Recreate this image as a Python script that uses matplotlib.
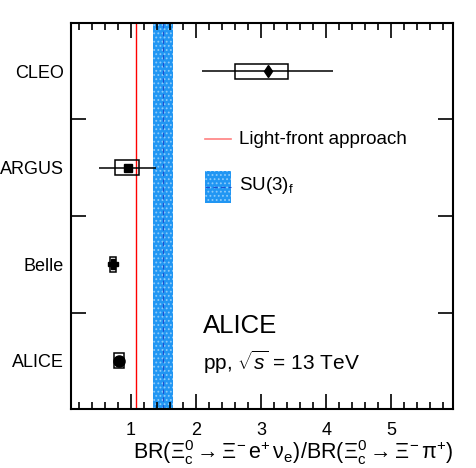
import numpy as np
import matplotlib
matplotlib.use("Agg")
import matplotlib.pyplot as plt
from matplotlib.patches import Rectangle
from matplotlib.ticker import MultipleLocator, FixedLocator, NullFormatter

plt.rcParams['font.family'] = ['Liberation Sans', 'DejaVu Sans']
plt.rcParams['mathtext.fontset'] = 'custom'
plt.rcParams['mathtext.rm'] = 'Liberation Sans'
plt.rcParams['mathtext.it'] = 'Liberation Sans:italic'
plt.rcParams['mathtext.bf'] = 'Liberation Sans:bold'
plt.rcParams['hatch.linewidth'] = 0.8

# measurements, top to bottom
experiments = ['CLEO', 'ARGUS', 'Belle', 'ALICE']
values = [3.1, 0.95, 0.73, 0.82]
stat_lo = [1.0, 0.44, 0.02, 0.03]
stat_hi = [1.0, 0.43, 0.02, 0.03]
syst_lo = [0.5, 0.19, 0.05, 0.08]
syst_hi = [0.32, 0.18, 0.04, 0.08]
markers = ['d', 's', 'P', 'o']
marker_sizes = [6, 6, 7, 8]

# theory predictions
light_front = 1.08
su3_center = 1.49
su3_lo = 1.34
su3_hi = 1.64

band_face = '#2196f3'
band_dots = '#8ccbfa'

fig = plt.figure(figsize=(4.76, 4.68), dpi=100)
ax = fig.add_axes([0.149, 0.126, 0.803, 0.825])

n = len(experiments)
ypos = n - 0.5 - np.arange(n)

# SU(3) band and light-front line
ax.axvspan(su3_lo, su3_hi, facecolor=band_face, edgecolor=band_dots, hatch='....',
           lw=0, zorder=1)
ax.axvline(su3_center, color='#1f4fd0', lw=0.8, ls=(0, (4, 3)), zorder=2)
ax.axvline(light_front, color='red', lw=1.0, zorder=2)

box_h = 0.155
for i in range(n):
    y = ypos[i]
    ax.errorbar(values[i], y, xerr=[[stat_lo[i]], [stat_hi[i]]], fmt='none',
                ecolor='black', elinewidth=1.1, capsize=0, zorder=3)
    ax.add_patch(Rectangle((values[i] - syst_lo[i], y - box_h / 2),
                           syst_lo[i] + syst_hi[i], box_h,
                           fill=False, ec='black', lw=1.1, zorder=4))
    ax.plot(values[i], y, marker=markers[i], color='black', ms=marker_sizes[i],
            ls='none', zorder=5)

ax.set_xlim(0.08, 5.95)
ax.set_ylim(0, n)

ax.xaxis.set_major_locator(FixedLocator([1, 2, 3, 4, 5]))
ax.xaxis.set_minor_locator(MultipleLocator(0.2))
ax.yaxis.set_major_locator(FixedLocator(np.arange(1, n)))
ax.yaxis.set_major_formatter(NullFormatter())
ax.yaxis.set_minor_locator(FixedLocator(ypos))
ax.set_yticklabels(experiments, minor=True)

ax.tick_params(axis='both', which='both', direction='in', top=True, right=True,
               labelsize=13, width=1.2)
ax.tick_params(axis='x', which='major', length=11, pad=9)
ax.tick_params(axis='x', which='minor', length=5)
ax.tick_params(axis='y', which='major', length=11)
ax.tick_params(axis='y', which='minor', length=0, pad=5)
for s in ax.spines.values():
    s.set_linewidth(1.5)

ax.set_xlabel(r'BR($\Xi_{\rm c}^{0}\rightarrow\Xi^{-}\,{\rm e}^{+}\,\mathrm{\nu}_{\rm e}$)/BR($\Xi_{\rm c}^{0}\rightarrow\Xi^{-}\,\mathrm{\pi}^{+}$)',
              fontsize=15.5, loc='right', labelpad=0)

# legend drawn by hand in axes coords
ax.plot([0.35, 0.42], [0.699, 0.699], transform=ax.transAxes, color='#ff8080', lw=1.2)
ax.text(0.44, 0.699, 'Light-front approach', transform=ax.transAxes, fontsize=13.5, va='center')
ax.add_patch(Rectangle((0.35, 0.534), 0.07, 0.083, transform=ax.transAxes,
                       facecolor=band_face, edgecolor=band_dots, hatch='....', lw=0))
ax.plot([0.35, 0.42], [0.575, 0.575], transform=ax.transAxes, color='#1f4fd0',
        lw=0.8, ls=(0, (4, 3)))
ax.text(0.44, 0.578, r'SU(3)$_{\rm f}$', transform=ax.transAxes, fontsize=13.5, va='center')

ax.text(0.345, 0.215, 'ALICE', transform=ax.transAxes, fontsize=18.5, va='center')
ax.text(0.345, 0.122, r'pp, $\sqrt{s}$ = 13 TeV', transform=ax.transAxes, fontsize=15, va='center')

fig.savefig('out.png', dpi=100)
